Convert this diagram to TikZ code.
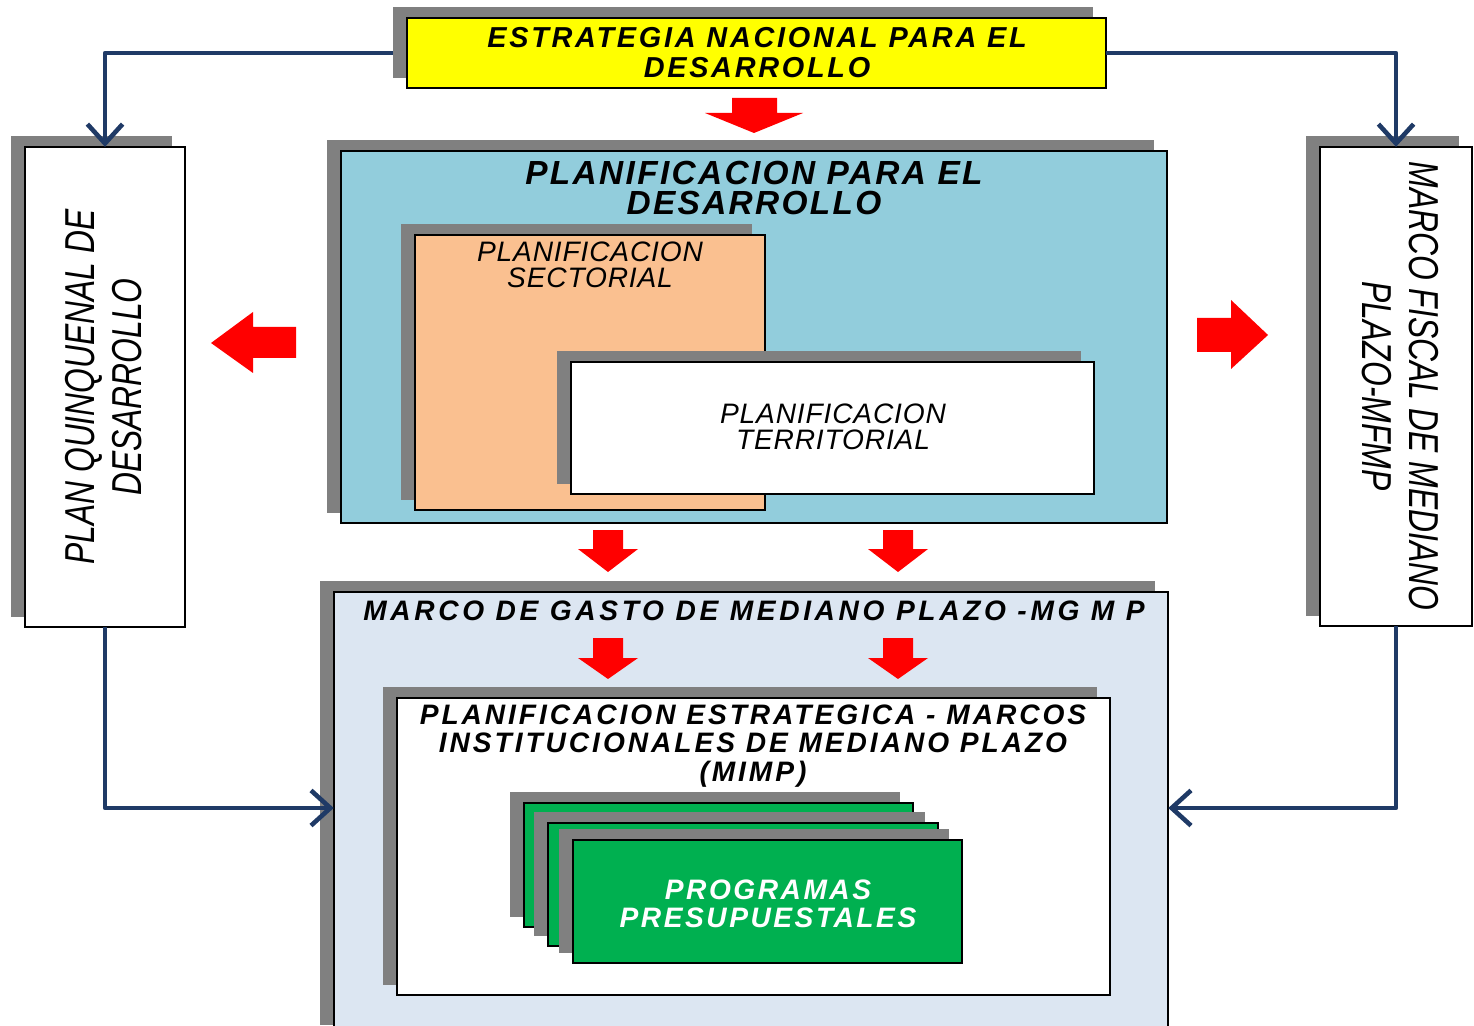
\documentclass[tikz,border=0pt]{standalone}
\usepackage{fontspec}
\setmainfont{Liberation Sans}
\newfontfamily\fest{Liberation Sans}[LetterSpace=9.5]
\newfontfamily\ftit{Liberation Sans}[LetterSpace=7]
\newfontfamily\fsec{Liberation Sans}[LetterSpace=3]
\newfontfamily\fmg{Liberation Sans}[LetterSpace=13]
\newfontfamily\fmi{Liberation Sans}[LetterSpace=10.5]
\newfontfamily\fpr{Liberation Sans}[LetterSpace=9]
\newfontfamily\fn{Liberation Sans}[FakeStretch=0.76]
\usetikzlibrary{shadows,arrows.meta}
\definecolor{cyel}{HTML}{FFFF00}
\definecolor{cblue}{HTML}{92CDDC}
\definecolor{corange}{HTML}{FAC090}
\definecolor{clight}{HTML}{DCE6F2}
\definecolor{cgreen}{HTML}{00B050}
\definecolor{cshadow}{HTML}{808080}
\definecolor{cconn}{HTML}{1F3A66}
\definecolor{cred}{HTML}{FF0000}
\tikzset{
  box/.style={draw=black, line width=0.5pt, inner sep=0pt, outer sep=0pt,
    general shadow={fill=cshadow, shadow xshift=-0.135cm, shadow yshift=0.105cm}},
  txt/.style={inner sep=0pt, align=center},
  conn/.style={draw=cconn, line width=1.3pt, line join=round,
    -{Straight Barb[length=5.5pt,width=10pt]}},
  redarr/.style={fill=cred},
}
\begin{document}
\begin{tikzpicture}[x=0.01cm,y=-0.01cm]
\useasboundingbox (0,0) rectangle (1474,1025);
\clip (0,0) rectangle (1474,1025);
\fill[white] (0,0) rectangle (1474,1025);

% boxes
\node[box, fill=cyel, minimum width=6.99cm, minimum height=0.70cm] (est) at (756.5,53) {};
\node[box, fill=white, minimum width=1.60cm, minimum height=4.80cm] (pqd) at (105,387) {};
\node[box, fill=white, minimum width=1.52cm, minimum height=4.79cm] (mfmp) at (1396,386.5) {};
\node[box, fill=cblue, minimum width=8.26cm, minimum height=3.72cm] (pd) at (754,337) {};
\node[box, fill=corange, minimum width=3.50cm, minimum height=2.75cm] (ps) at (590,372.5) {};
\node[box, fill=white, minimum width=5.23cm, minimum height=1.32cm] (pt) at (832.5,428) {};
\node[box, fill=clight, minimum width=8.34cm, minimum height=4.43cm] (mgmp) at (751,813.5) {};
\node[box, fill=white, minimum width=7.13cm, minimum height=2.97cm] (mimp) at (753.5,846.5) {};
\node[box, fill=cgreen, minimum width=3.89cm, minimum height=1.24cm] (g1) at (718.5,865) {};
\node[box, fill=cgreen, minimum width=3.90cm, minimum height=1.23cm] (g2) at (743,884.5) {};
\node[box, fill=cgreen, minimum width=3.89cm, minimum height=1.23cm] (g3) at (767.5,901.5) {};

% texts
\node[txt, font=\fest\bfseries\itshape\fontsize{8.2}{8.5}\selectfont] (testr) at (757,53)
  {ESTRATEGIA NACIONAL PARA EL\\DESARROLLO};
\node[txt, rotate=90, font=\fn\itshape\fontsize{11.9}{13.4}\selectfont] (tpqd) at (104,387)
  {PLAN QUINQUENAL DE\\DESARROLLO};
\node[txt, rotate=-90, font=\fn\itshape\fontsize{11.9}{13.4}\selectfont] (tmfmp) at (1400,386)
  {MARCO FISCAL DE MEDIANO\\PLAZO-MFMP};
\node[txt, font=\ftit\bfseries\itshape\fontsize{9.5}{8.8}\selectfont] (tpd) at (754,188)
  {PLANIFICACION PARA EL\\DESARROLLO};
\node[txt, font=\fsec\itshape\fontsize{8}{7.4}\selectfont] (tps) at (590,265)
  {PLANIFICACION\\SECTORIAL};
\node[txt, font=\fsec\itshape\fontsize{8}{7.4}\selectfont] (tpt) at (833,427)
  {PLANIFICACION\\TERRITORIAL};
\node[txt, font=\fmg\bfseries\itshape\fontsize{8}{8.1}\selectfont] (tmgmp) at (754,611)
  {MARCO DE GASTO DE MEDIANO PLAZO -MG M P};
\node[txt, font=\fmi\bfseries\itshape\fontsize{8}{8.1}\selectfont] (tmimp) at (753,746)
  {PLANIFICACION ESTRATEGICA - MARCOS\\INSTITUCIONALES DE MEDIANO PLAZO\\(MIMP)};
\node[txt, text=white, font=\fpr\bfseries\itshape\fontsize{8}{8}\selectfont] (tprog) at (768,904)
  {PROGRAMAS\\PRESUPUESTALES};

% connectors
\draw[conn] ([xshift=-0.14cm]est.west) -| (pqd.north);
\draw[conn] (est.east) -| (mfmp.north);
\draw[conn] (pqd.south) |- ([yshift=0.055cm]mgmp.west);
\draw[conn] (mfmp.south) |- ([yshift=0.055cm]mgmp.east);

% red block arrows
\fill[redarr] (732,98) -- (777,98) -- (777,113) -- (803,113) -- (754,133) -- (705,113) -- (732,113) -- cycle;
\fill[redarr] (296,327) -- (253,327) -- (253,312) -- (211,343) -- (253,373) -- (253,358) -- (296,358) -- cycle;
\fill[redarr] (1197,318) -- (1231,318) -- (1231,300) -- (1268,335) -- (1231,369) -- (1231,352) -- (1197,352) -- cycle;
\foreach \cx in {608,898}{
  \fill[redarr] (\cx-15,530) -- (\cx+15,530) -- (\cx+15,549) -- (\cx+30,549) -- (\cx,572) -- (\cx-30,549) -- (\cx-15,549) -- cycle;
  \fill[redarr] (\cx-15,638) -- (\cx+15,638) -- (\cx+15,658) -- (\cx+30,658) -- (\cx,679) -- (\cx-30,658) -- (\cx-15,658) -- cycle;
}
\end{tikzpicture}
\end{document}
